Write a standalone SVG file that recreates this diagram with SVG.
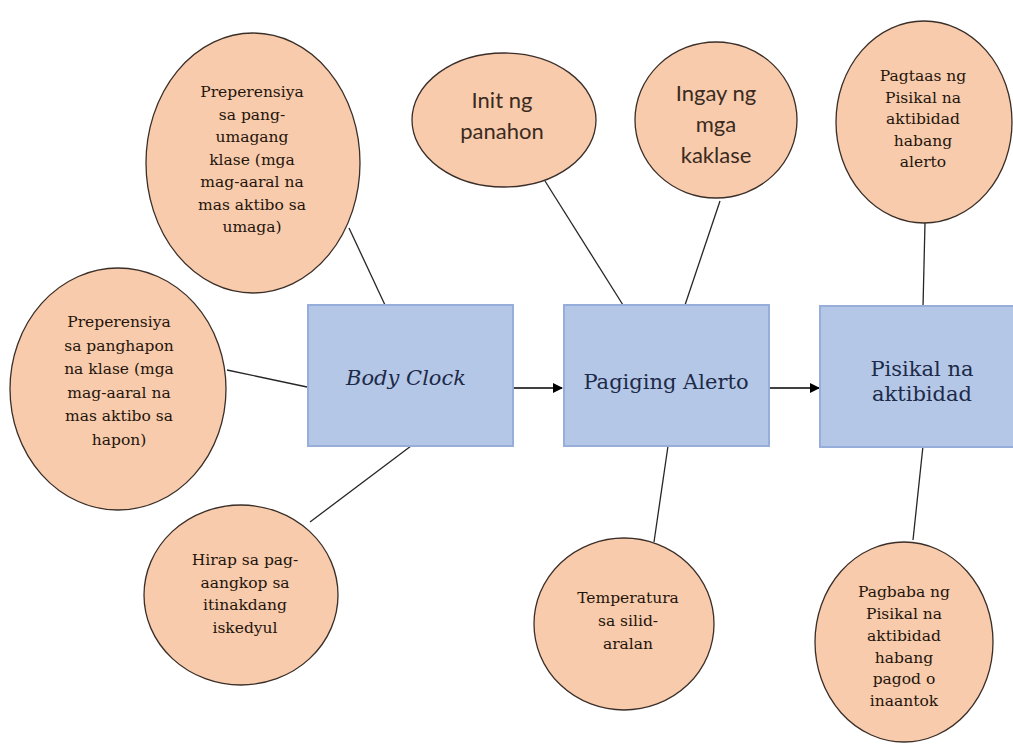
<svg xmlns="http://www.w3.org/2000/svg" width="1013" height="745" viewBox="0 0 1013 745">
<style>
.ell{fill:#F8CBAD;stroke:#3a2e28;stroke-width:1.3}
.box{fill:#B4C7E7;stroke:#97AEDA;stroke-width:2}
.ln{stroke:#262626;stroke-width:1.3;fill:none}
.ar{stroke:#000;stroke-width:1.6;fill:none}
.st{font-family:"DejaVu Serif","Liberation Serif",serif;font-size:15.5px;fill:#24150b;text-anchor:middle}
.ss{font-family:Lato,"Liberation Sans",sans-serif;font-size:22px;fill:#3a2a20;text-anchor:middle}
.bt{font-family:"DejaVu Serif","Liberation Serif",serif;font-size:21px;fill:#1d2a48;text-anchor:middle}
</style>
<defs>
<marker id="ah" markerWidth="10" markerHeight="10" refX="9" refY="5" orient="auto" markerUnits="userSpaceOnUse">
<path d="M0,0 L10,5 L0,10 Z" fill="#000"/>
</marker>
</defs>
<rect width="1013" height="745" fill="#fff"/>
<g id="connectors">
<line class="ln" x1="349" y1="228" x2="385" y2="305"/>
<line class="ln" x1="227" y1="370" x2="307" y2="387"/>
<line class="ln" x1="411" y1="446" x2="310" y2="522"/>
<line class="ln" x1="545" y1="181" x2="623" y2="305"/>
<line class="ln" x1="720" y1="201" x2="685" y2="305"/>
<line class="ln" x1="668" y1="446" x2="654" y2="542"/>
<line class="ln" x1="925" y1="223" x2="923" y2="307"/>
<line class="ln" x1="923" y1="446" x2="913" y2="540"/>
<line class="ar" x1="513" y1="388" x2="562" y2="388" marker-end="url(#ah)"/>
<line class="ar" x1="769" y1="388" x2="819" y2="388" marker-end="url(#ah)"/>
</g>
<g id="pref-umaga">
<ellipse class="ell" cx="253" cy="163" rx="107" ry="130"/>
<text class="st" x="252" y="97">Preperensiya</text>
<text class="st" x="252" y="119.5">sa pang-</text>
<text class="st" x="252" y="142">umagang</text>
<text class="st" x="252" y="164.5">klase (mga</text>
<text class="st" x="252" y="187">mag-aaral na</text>
<text class="st" x="252" y="209.5">mas aktibo sa</text>
<text class="st" x="252" y="232">umaga)</text>
</g>
<g id="pref-hapon">
<ellipse class="ell" cx="118" cy="389" rx="108" ry="121"/>
<text class="st" x="119" y="327">Preperensiya</text>
<text class="st" x="119" y="350.5">sa panghapon</text>
<text class="st" x="119" y="374">na klase (mga</text>
<text class="st" x="119" y="397.5">mag-aaral na</text>
<text class="st" x="119" y="421">mas aktibo sa</text>
<text class="st" x="119" y="444.5">hapon)</text>
</g>
<g id="hirap">
<ellipse class="ell" cx="241" cy="595" rx="97" ry="90"/>
<text class="st" x="245" y="565">Hirap sa pag-</text>
<text class="st" x="245" y="587.5">aangkop sa</text>
<text class="st" x="245" y="610">itinakdang</text>
<text class="st" x="245" y="632.5">iskedyul</text>
</g>
<g id="body-clock">
<rect class="box" x="308" y="305" width="205" height="141"/>
<text class="bt" x="406" y="385" font-style="italic">Body Clock</text>
</g>
<g id="init">
<ellipse class="ell" cx="504" cy="120" rx="92" ry="67"/>
<text class="ss" x="502" y="108">Init ng</text>
<text class="ss" x="502" y="139">panahon</text>
</g>
<g id="ingay">
<ellipse class="ell" cx="716" cy="120" rx="81" ry="78"/>
<text class="ss" x="716" y="101">Ingay ng</text>
<text class="ss" x="716" y="132">mga</text>
<text class="ss" x="716" y="163">kaklase</text>
</g>
<g id="alerto">
<rect class="box" x="564" y="305" width="205" height="141"/>
<text class="bt" x="666" y="389">Pagiging Alerto</text>
</g>
<g id="temperatura">
<ellipse class="ell" cx="624" cy="624" rx="90" ry="86"/>
<text class="st" x="628" y="603">Temperatura</text>
<text class="st" x="628" y="626">sa silid-</text>
<text class="st" x="628" y="649">aralan</text>
</g>
<g id="pagtaas">
<ellipse class="ell" cx="924" cy="122" rx="88" ry="101"/>
<text class="st" x="923" y="81">Pagtaas ng</text>
<text class="st" x="923" y="102.5">Pisikal na</text>
<text class="st" x="923" y="124">aktibidad</text>
<text class="st" x="923" y="145.5">habang</text>
<text class="st" x="923" y="167">alerto</text>
</g>
<g id="pisikal">
<rect class="box" x="820" y="306" width="205" height="141"/>
<text class="bt" x="922" y="376">Pisikal na</text>
<text class="bt" x="922" y="401">aktibidad</text>
</g>
<g id="pagbaba">
<ellipse class="ell" cx="904" cy="642" rx="89" ry="100"/>
<text class="st" x="904" y="597">Pagbaba ng</text>
<text class="st" x="904" y="619">Pisikal na</text>
<text class="st" x="904" y="641">aktibidad</text>
<text class="st" x="904" y="663">habang</text>
<text class="st" x="904" y="684">pagod o</text>
<text class="st" x="904" y="706">inaantok</text>
</g>
</svg>
